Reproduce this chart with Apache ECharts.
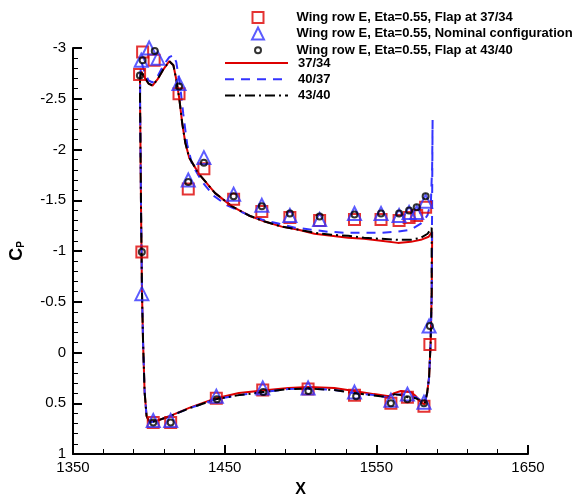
<!DOCTYPE html>
<html>
<head>
<meta charset="utf-8">
<script src="https://cdn.jsdelivr.net/npm/echarts@6/dist/echarts.min.js"></script>
<style>
html,body{margin:0;padding:0;background:#fff;}
#chart{width:584px;height:503px;}
</style>
</head>
<body>
<div id="chart"></div>
<script>
// ---- Measured data: Flap at 37/34 (squares) ----
const sqX  = [1393.9,1395.9,1403.5,1419.9,1426.0,1436.3,1455.9,1474.5,1493.0,1512.6,1535.6,1553.1,1565.0,1571.6,1576.6,1582.5,1585.3,
              1395.4,1402.9,1414.4,1444.5,1475.1,1505.0,1535.6,1559.6,1570.5,1581.4];
const sqCp = [-2.74,-2.96,-2.88,-2.55,-1.61,-1.81,-1.51,-1.39,-1.33,-1.30,-1.31,-1.31,-1.30,-1.33,-1.35,-1.43,-0.08,
              -0.99,0.69,0.69,0.45,0.37,0.36,0.42,0.50,0.44,0.53];
// ---- Measured data: Nominal configuration (triangles) ----
const triX  = [1395.0,1400.2,1406.0,1419.9,1426.0,1436.3,1455.9,1474.5,1493.0,1512.6,1535.6,1553.1,1565.0,1571.6,1576.6,1582.5,1584.8,
               1395.4,1402.9,1414.4,1444.5,1475.1,1505.0,1535.6,1559.6,1570.5,1581.4];
const triCp = [-2.88,-3.00,-2.90,-2.65,-1.70,-1.92,-1.56,-1.45,-1.35,-1.31,-1.37,-1.37,-1.35,-1.38,-1.38,-1.49,-0.26,
               -0.58,0.67,0.67,0.43,0.35,0.35,0.39,0.47,0.41,0.49];
// ---- Measured data: Flap at 43/40 (circles) ----
const cirX  = [1394.1,1395.9,1403.9,1419.9,1426.0,1436.3,1455.9,1474.5,1493.0,1512.6,1535.6,1553.1,1565.0,1571.6,1576.6,1582.5,1585.3,
               1395.4,1402.9,1414.4,1444.9,1475.5,1505.2,1536.7,1559.6,1570.5,1581.4];
const cirCp = [-2.73,-2.88,-2.97,-2.62,-1.68,-1.87,-1.54,-1.44,-1.37,-1.34,-1.36,-1.37,-1.37,-1.40,-1.43,-1.54,-0.26,
               -0.99,0.69,0.69,0.46,0.39,0.38,0.43,0.50,0.46,0.50];

// ---- Computed curves ----
const red3734X  = [1586.8,1586.8,1586.5,1585.8,1584.8,1583.5,1581.9,1580.4,1576.0,1572.7,1566.2,1561.8,1558.3,1548.5,1535.4,1522.3,1505.2,1492.1,1475.1,1459.4,1444.3,1426.6,1414.2,1405.7,1400.4,1398.5,1397.2,1396.2,1395.5,1394.9,1394.5,1394.2,1394.2,1394.9,1397.2,1399.8,1402.4,1405.7,1409.6,1413.5,1416.2,1418.1,1420.1,1422.0,1424.0,1426.6,1433.0,1443.7,1454.8,1465.9,1476.4,1487.6,1498.7,1509.2,1520.3,1531.4,1541.9,1553.1,1564.2,1572.7,1579.3,1584.5,1586.8];
const red3734Cp = [-1.19,-1.14,-0.58,-0.10,0.24,0.40,0.51,0.50,0.43,0.39,0.38,0.40,0.43,0.41,0.38,0.35,0.34,0.35,0.375,0.40,0.45,0.545,0.625,0.67,0.68,0.625,0.385,-0.10,-0.58,-1.35,-2.02,-2.50,-2.69,-2.77,-2.71,-2.65,-2.63,-2.69,-2.79,-2.87,-2.83,-2.69,-2.50,-2.26,-2.07,-1.92,-1.76,-1.57,-1.44,-1.35,-1.29,-1.24,-1.21,-1.17,-1.15,-1.13,-1.12,-1.10,-1.08,-1.09,-1.11,-1.14,-1.19];

const blue4037X  = [1587.1,1586.8,1586.5,1585.8,1584.8,1583.5,1581.9,1580.4,1576.0,1571.3,1566.2,1561.8,1559.6,1548.5,1535.4,1522.3,1505.2,1492.1,1475.1,1459.4,1444.3,1426.6,1414.2,1405.7,1400.4,1398.5,1397.2,1396.2,1395.5,1394.9,1394.5,1394.2,1394.4,1395.2,1397.2,1399.8,1402.4,1405.7,1409.6,1413.5,1416.2,1418.1,1420.7,1422.7,1425.3,1428.6,1435.2,1443.1,1451.6,1464.7,1474.5,1485.4,1496.3,1507.2,1518.1,1529.0,1541.1,1553.1,1564.0,1572.7,1579.3,1583.7,1586.0,1586.8,1587.1];
const blue4037Cp = [-2.29,-1.54,-0.58,-0.10,0.24,0.40,0.49,0.48,0.44,0.42,0.41,0.42,0.45,0.42,0.40,0.37,0.355,0.36,0.39,0.42,0.46,0.55,0.625,0.67,0.69,0.625,0.385,-0.10,-0.58,-1.35,-2.02,-2.50,-2.75,-2.86,-2.76,-2.68,-2.66,-2.72,-2.83,-2.91,-2.93,-2.86,-2.62,-2.35,-2.05,-1.85,-1.68,-1.54,-1.45,-1.36,-1.31,-1.27,-1.23,-1.21,-1.19,-1.18,-1.18,-1.18,-1.19,-1.21,-1.27,-1.35,-1.49,-1.83,-2.29];

const black4340X  = [1586.5,1586.5,1585.8,1584.8,1583.5,1581.9,1580.4,1576.0,1570.5,1566.2,1561.8,1559.6,1552.6,1546.1,1535.4,1522.3,1505.2,1492.1,1475.1,1459.4,1444.3,1426.6,1414.2,1405.7,1400.4,1398.5,1397.2,1396.2,1395.5,1394.9,1394.5,1394.2,1394.2,1394.9,1397.2,1399.8,1402.4,1405.7,1409.6,1413.5,1416.2,1418.1,1420.1,1422.0,1424.0,1426.6,1433.0,1443.7,1454.8,1465.9,1476.4,1487.6,1498.7,1509.2,1520.3,1531.4,1541.9,1553.1,1564.2,1572.7,1579.3,1583.8,1586.5];
const black4340Cp = [-1.23,-0.58,-0.10,0.24,0.40,0.50,0.49,0.45,0.44,0.42,0.41,0.44,0.43,0.42,0.40,0.37,0.355,0.36,0.39,0.42,0.46,0.55,0.625,0.67,0.69,0.625,0.385,-0.10,-0.58,-1.35,-2.02,-2.50,-2.69,-2.77,-2.71,-2.65,-2.63,-2.69,-2.79,-2.87,-2.83,-2.69,-2.50,-2.26,-2.07,-1.92,-1.76,-1.57,-1.44,-1.35,-1.29,-1.24,-1.21,-1.18,-1.16,-1.15,-1.13,-1.12,-1.11,-1.11,-1.13,-1.17,-1.23];

const xTicks = [1350,1450,1550,1650];
const yTicks = [-3,-2.5,-2,-1.5,-1,-0.5,0,0.5,1];

const names = {
  sq: 'Wing row E, Eta=0.55, Flap at 37/34',
  tri: 'Wing row E, Eta=0.55, Nominal configuration',
  cir: 'Wing row E, Eta=0.55, Flap at 43/40',
  red: '37/34', blue: '40/37', black: '43/40'
};

function zip(a, b) { return a.map((v, i) => [v, b[i]]); }

const RED = '#dd0000', BLUE = '#3333ff', BLACK = '#000000';
const FONT = 'Liberation Sans, Arial, Helvetica, sans-serif';

const TEXT_X = 297, ICON_CX = 255.5;
function legendRow(name, center, w, h, left, icon, adj, extra) {
  return Object.assign({
    data: [icon ? {name: name, icon: icon} : name], orient: 'vertical', align: 'left',
    left: left, top: center - h / 2, padding: 0,
    itemWidth: w, itemHeight: h, itemGap: 0,
    textStyle: {color: '#000', fontWeight: 'bold', fontSize: 13, fontFamily: FONT,
                padding: [0, 0, 0, TEXT_X - (left + w + 5) - adj]},
    selectedMode: false
  }, extra || {});
}

const chart = echarts.init(document.getElementById('chart'), null, {renderer: 'canvas'});
chart.setOption({
  animation: false,
  backgroundColor: '#fff',
  grid: {left: 70, right: 56, top: 48, bottom: 39, containLabel: false},
  legend: [
    legendRow(names.sq, 15, 11, 11, ICON_CX - 5.5, 'rect', 3),
    legendRow(names.tri, 31, 12, 12, ICON_CX - 6, 'triangle', 3),
    legendRow(names.cir, 46.7, 6, 6, ICON_CX - 3, 'circle', 3),
    legendRow(names.red, 62.5, 63, 12, 224, null, 0, {itemStyle: {opacity: 0}}),
    legendRow(names.blue, 78.7, 63, 12, 224, null, 0, {itemStyle: {opacity: 0}}),
    legendRow(names.black, 94.9, 63, 12, 224, null, 0, {itemStyle: {opacity: 0}})
  ],
  xAxis: {
    type: 'value', min: 1350, max: 1650, interval: 100,
    name: 'X', nameLocation: 'middle', nameGap: 28,
    nameTextStyle: {fontSize: 16, fontWeight: 'bold', color: '#000', fontFamily: FONT},
    axisLine: {show: true, onZero: false, lineStyle: {color: '#000', width: 2}},
    axisTick: {show: true, inside: true, length: 9, lineStyle: {color: '#000', width: 2}},
    minorTick: {show: true, splitNumber: 5, length: 5, lineStyle: {color: '#000', width: 1}},
    axisLabel: {color: '#000', fontSize: 15, fontFamily: FONT, margin: 6,
      formatter: v => xTicks.includes(v) ? String(v) : ''},
    splitLine: {show: false}
  },
  yAxis: {
    type: 'value', min: -3, max: 1, interval: 0.5, inverse: true,
    name: '{c|C}{p|P}', nameLocation: 'middle', nameGap: 47, nameRotate: 90,
    nameTextStyle: {color: '#000', fontFamily: FONT, rich: {
      c: {fontSize: 18, fontWeight: 'bold', color: '#000', fontFamily: FONT},
      p: {fontSize: 10, fontWeight: 'bold', color: '#000', fontFamily: FONT, verticalAlign: 'bottom', padding: [6,0,0,0]}
    }},
    axisLine: {show: true, onZero: false, lineStyle: {color: '#000', width: 2}},
    axisTick: {show: true, inside: true, length: 9, lineStyle: {color: '#000', width: 2}},
    minorTick: {show: true, splitNumber: 5, length: 5, lineStyle: {color: '#000', width: 1}},
    axisLabel: {color: '#000', fontSize: 15, fontFamily: FONT, margin: 7,
      formatter: v => yTicks.includes(v) ? String(v) : ''},
    splitLine: {show: false}
  },
  series: [
    {name: names.red, type: 'line', data: zip(red3734X, red3734Cp), symbol: 'none', showSymbol: false,
     lineStyle: {color: RED, width: 2}, itemStyle: {color: RED}, z: 2},
    {name: names.blue, type: 'line', data: zip(blue4037X, blue4037Cp), symbol: 'none', showSymbol: false,
     lineStyle: {color: BLUE, width: 2, type: [9, 7]}, itemStyle: {color: BLUE}, z: 3},
    {name: names.black, type: 'line', data: zip(black4340X, black4340Cp), symbol: 'none', showSymbol: false,
     lineStyle: {color: BLACK, width: 2, type: [10, 4, 2, 4]}, itemStyle: {color: BLACK}, z: 4},
    {name: names.sq, type: 'scatter', data: zip(sqX, sqCp), symbol: 'rect', symbolSize: 11,
     itemStyle: {color: 'none', borderColor: RED, borderWidth: 2}, z: 5},
    {name: names.tri, type: 'scatter', data: zip(triX, triCp), symbol: 'triangle', symbolSize: 13,
     itemStyle: {color: 'none', borderColor: BLUE, borderWidth: 2}, z: 6},
    {name: names.cir, type: 'scatter', data: zip(cirX, cirCp), symbol: 'circle', symbolSize: 6,
     itemStyle: {color: 'none', borderColor: BLACK, borderWidth: 2}, z: 7}
  ]
});
</script>
</body>
</html>
